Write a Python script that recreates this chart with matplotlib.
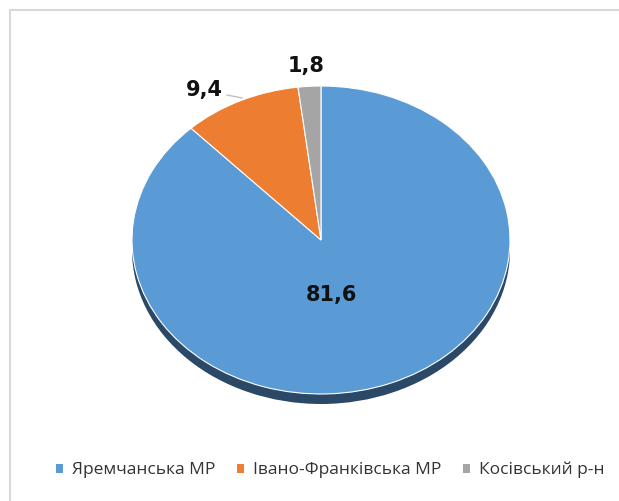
import matplotlib
matplotlib.use("Agg")
import matplotlib.pyplot as plt
from matplotlib.patches import Ellipse, Patch
from matplotlib.lines import Line2D

categories = ["Яремчанська МР", "Івано-Франківська МР", "Косівський р-н"]
values = [81.6, 9.4, 1.8]
value_labels = ["81,6", "9,4", "1,8"]
colors = ["#5B9BD5", "#ED7D31", "#A5A5A5"]

W, H = 619, 501
fig = plt.figure(figsize=(W / 100, H / 100), dpi=100)
fig.patch.set_facecolor("white")
ax = fig.add_axes([0, 0, 1, 1])

cx, cy, rx, ry = 321, 240, 189, 154  # pixel geometry of pie

def px(x, y):
    return (x - cx) / rx, (cy - y) / ry

# shadow (3D edge)
shadow = Ellipse(px(321, 250), 2, 2, facecolor="#2B4866", edgecolor="none", zorder=0)
ax.add_patch(shadow)

wedges, _ = ax.pie(values, colors=colors, startangle=90, counterclock=False,
                   radius=1, center=(0, 0),
                   wedgeprops=dict(edgecolor="white", linewidth=0.8))
for w in wedges:
    w.set_zorder(2)

ax.set_aspect("auto")
ax.set_xlim(-cx / rx, (W - cx) / rx)
ax.set_ylim((cy - H) / ry, cy / ry)
ax.axis("off")

lab_pos = [px(331, 295), px(204, 90), px(306, 66)]
for (x, y), t in zip(lab_pos, value_labels):
    ax.text(x, y, t, ha="center", va="center", fontsize=15, fontweight="bold",
            color="#111111", family="DejaVu Sans", zorder=5)

# leader line for 9,4
(x0, y0), (x1, y1) = px(227, 95), px(242, 98)
ax.plot([x0, x1], [y0, y1], color="#BFBFBF", lw=1, zorder=4)

# border
fig.add_artist(Line2D([9.5 / W, 1], [1 - 9.5 / H, 1 - 9.5 / H], transform=fig.transFigure,
                      color="#D9D9D9", lw=1.5))
fig.add_artist(Line2D([9.5 / W, 9.5 / W], [0, 1 - 9.5 / H], transform=fig.transFigure,
                      color="#D9D9D9", lw=1.5))

handles = [Patch(facecolor=c, edgecolor="none") for c in colors]
leg = fig.legend(handles, categories, loc="center", bbox_to_anchor=(330 / W, 1 - 470 / H),
                 ncol=3, frameon=False, handlelength=0.42, handleheight=0.42,
                 handletextpad=0.5, columnspacing=1.25,
                 prop=dict(family="Open Sans", size=12.5, weight="medium"))
for t in leg.get_texts():
    t.set_color("#333333")

fig.savefig("out.png", dpi=100, facecolor="white")
